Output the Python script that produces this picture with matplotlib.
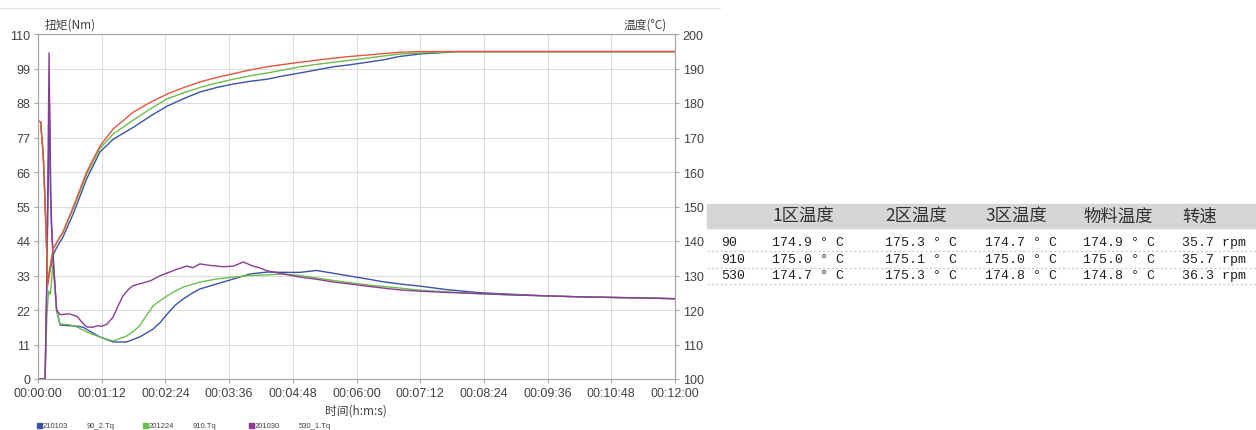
import matplotlib.pyplot as plt
from matplotlib.patches import Rectangle
from matplotlib.lines import Line2D
from matplotlib.ticker import FuncFormatter, MultipleLocator

# ---- data (time in seconds) ----
# torque curves (left axis, Nm)
t_tq_blue = [0, 8, 9.5, 13, 15, 17, 21, 25, 35, 45, 51, 60, 70, 85, 100, 115, 130, 138,
             146, 155, 164, 175, 183, 202, 221, 240, 259, 277, 296, 315, 334, 353, 372,
             390, 409, 432, 462, 500, 537, 575, 612, 650, 690, 720]
tq_blue = [0, 0, 25, 88, 50, 40, 22, 17.2, 17, 16.8, 16.5, 15, 13.4, 11.8, 11.8, 13.4, 15.9, 18,
           20.7, 23.5, 25.5, 27.5, 28.7, 30.3, 31.9, 33.5, 34.1, 34, 34, 34.6, 33.7, 32.8, 31.9,
           31, 30.3, 29.6, 28.5, 27.5, 27, 26.5, 26.2, 26, 25.8, 25.6]

t_tq_green = [0, 8, 10, 12, 14, 17, 21, 25, 35, 45, 55, 70, 85, 100, 108, 115, 122, 130, 138,
              146, 155, 164, 175, 183, 202, 221, 240, 259, 277, 296, 315, 334, 353, 372, 390,
              409, 432, 462, 500, 537, 575, 612, 650, 690, 720]
tq_green = [0, 0, 20, 28, 27, 37, 22, 17.5, 17.3, 16.5, 15, 13.4, 12.1, 13.7, 15.2, 17, 20, 23.3, 25,
            26.5, 28, 29.3, 30.2, 30.9, 31.9, 32.5, 33, 33.2, 33.5, 33, 32.2, 31.4, 30.7, 30, 29.5,
            29, 28.3, 27.8, 27.2, 26.8, 26.5, 26.2, 26, 25.8, 25.6]

t_tq_purple = [0, 8, 10, 12.5, 14, 17, 21, 25, 35, 44, 50, 55, 62, 67, 72, 78, 85, 90, 96, 102,
               107, 117, 127, 137, 146, 157, 168, 175, 183, 195, 210, 221, 232, 243, 250, 259,
               268, 277, 296, 315, 334, 353, 372, 390, 409, 432, 462, 500, 537, 575, 612, 650,
               690, 720]
tq_purple = [0, 0, 30, 104, 60, 38, 22, 20.5, 20.8, 20, 18, 16.6, 16.5, 17, 16.8, 17.5, 19.8, 23,
             26.5, 28.5, 29.7, 30.5, 31.3, 32.8, 33.8, 35, 36, 35.5, 36.7, 36.2, 35.8, 36, 37.3,
             36, 35.5, 34.5, 34, 33.5, 32.5, 31.8, 30.9, 30.3, 29.6, 29, 28.4, 28, 27.6, 27.2,
             26.8, 26.5, 26.2, 26, 25.8, 25.6]

# temperature curves (right axis, °C)
t_temp = [0, 3, 6, 9, 11, 13, 17, 22, 28, 40, 55, 70, 85, 108, 127, 146, 165, 183, 202, 221,
          240, 259, 278, 296, 315, 334, 353, 372, 390, 409, 432, 474, 520, 600, 680, 720]
temp_red = [174.8, 174.5, 165, 145, 127, 131, 137.7, 140, 142.5, 150, 160, 167.5, 172.5, 177.4,
            180.2, 182.6, 184.5, 186.1, 187.4, 188.5, 189.6, 190.5, 191.2, 191.8, 192.4, 193,
            193.5, 193.9, 194.3, 194.7, 194.9, 194.9, 194.9, 194.9, 194.9, 194.9]
temp_green = [174.8, 174.5, 165, 145, 128, 131.5, 137.5, 139.8, 142.3, 149.5, 159.3, 166.8, 171,
              175.1, 178.3, 181.2, 183, 184.5, 185.8, 186.9, 187.9, 188.7, 189.6, 190.5, 191.2,
              191.8, 192.4, 193, 193.6, 194.2, 194.5, 194.9, 194.9, 194.9, 194.9, 194.9]
temp_blue = [174.8, 174.5, 164, 143, 128, 130.5, 136, 138.5, 141, 148, 158, 165.8, 169.5, 173,
             176.2, 179.1, 181.3, 183.2, 184.5, 185.5, 186.3, 186.9, 187.9, 188.7, 189.6, 190.5,
             191.1, 191.8, 192.5, 193.5, 194.2, 194.9, 194.9, 194.9, 194.9, 194.9]

legend_codes = ["210103", "201224", "201030"]
legend_names = ["90_2.Tq", "910.Tq", "530_1.Tq"]

# table on the right
table_header = ["1区温度", "2区温度", "3区温度", "物料温度", "转速"]
table_rows = ["90", "910", "530"]
table_values = [
    ["174.9 ° C", "175.3 ° C", "174.7 ° C", "174.9 ° C", "35.7 rpm"],
    ["175.0 ° C", "175.1 ° C", "175.0 ° C", "175.0 ° C", "35.7 rpm"],
    ["174.7 ° C", "175.3 ° C", "174.8 ° C", "174.8 ° C", "36.3 rpm"],
]

BLUE = "#3a52a8"
GREEN = "#6abf4b"
PURPLE = "#8e3a96"
RED = "#e8553f"
CJK = ["Noto Sans CJK SC", "DejaVu Sans"]

W, H = 1256, 431


def fx(x):
    return x / W


def fy(y):
    return 1 - y / H


def hms(s, _pos=None):
    s = int(round(s))
    return f"{s // 3600:02d}:{s % 3600 // 60:02d}:{s % 60:02d}"


fig = plt.figure(figsize=(W / 100, H / 100), dpi=100)
ax = fig.add_axes([fx(38), fy(380), (675 - 38) / W, (380 - 35) / H])

ax.plot(t_tq_blue, tq_blue, color=BLUE, lw=1)
ax.plot(t_tq_green, tq_green, color=GREEN, lw=1)
ax.plot(t_tq_purple, tq_purple, color=PURPLE, lw=1)

ax.set_xlim(0, 720)
ax.set_ylim(0, 110)
ax.xaxis.set_major_locator(MultipleLocator(72))
ax.xaxis.set_major_formatter(FuncFormatter(hms))
ax.yaxis.set_major_locator(MultipleLocator(11))
ax.grid(True, color="#dcdcdc", lw=0.8)
ax.set_axisbelow(True)

ax2 = ax.twinx()
ax2.plot(t_temp, temp_blue, color=BLUE, lw=1)
ax2.plot(t_temp, temp_green, color=GREEN, lw=1)
ax2.plot(t_temp, temp_red, color=RED, lw=1)
ax2.set_ylim(100, 200)
ax2.yaxis.set_major_locator(MultipleLocator(10))

for a in (ax, ax2):
    for sp in a.spines.values():
        sp.set_color("#a8a8a8")
        sp.set_linewidth(0.8)
    a.tick_params(labelsize=9, colors="#a8a8a8", labelcolor="#404040", length=3, width=0.8,
                  pad=2.5)
    for lab in a.get_xticklabels() + a.get_yticklabels():
        lab.set_fontfamily("Liberation Sans")

fig.text(fx(45), fy(25), "扭矩(Nm)", family=CJK, fontsize=8.5, color="#404040", va="center")
fig.text(fx(667), fy(25), "温度(°C)", family=CJK, fontsize=8.5, color="#404040",
         va="center", ha="right")
fig.text(fx(356), fy(411), "时间(h:m:s)", family=CJK, fontsize=8.5, color="#404040",
         va="center", ha="center")

# faint separator line on top
fig.add_artist(Line2D([0, fx(720)], [fy(9), fy(9)], color="#e6e6e6", lw=1))

# legend below the chart
for i, (code, name, col) in enumerate(zip(legend_codes, legend_names, [BLUE, GREEN, PURPLE])):
    x0 = 37 + i * 106
    fig.add_artist(Rectangle((fx(x0), fy(429)), 5 / W, 5 / H, color=col,
                             transform=fig.transFigure))
    fig.text(fx(x0 + 6), fy(426.5), code, fontsize=5.5, family="Liberation Sans",
             color="#404040", va="center")
    fig.text(fx(x0 + 50), fy(426.5), name, fontsize=5.5, family="Liberation Sans",
             color="#404040", va="center")

# table
col_x = [772, 885, 985, 1083, 1182]
fig.add_artist(Rectangle((fx(707), fy(229)), (W - 707) / W, 24 / H, color="#d6d6d6",
                         transform=fig.transFigure))
for x, h in zip(col_x, table_header):
    fig.text(fx(x), fy(217), h, family=CJK, fontsize=12.5, color="#303030", va="center")

row_y = [243, 260, 276]
for y, lab, vals in zip(row_y, table_rows, table_values):
    fig.text(fx(721), fy(y), lab, family="Liberation Mono", fontsize=9.5, color="#202020",
             va="center")
    for x, v in zip(col_x, vals):
        fig.text(fx(x), fy(y), v, family="Liberation Mono", fontsize=9.5, color="#202020",
                 va="center")
    fig.add_artist(Line2D([fx(707), 1], [fy(y + 8.5), fy(y + 8.5)], color="#c8c8c8", lw=0.8,
                          ls=(0, (2, 2))))

fig.savefig("out.png", dpi=100)
